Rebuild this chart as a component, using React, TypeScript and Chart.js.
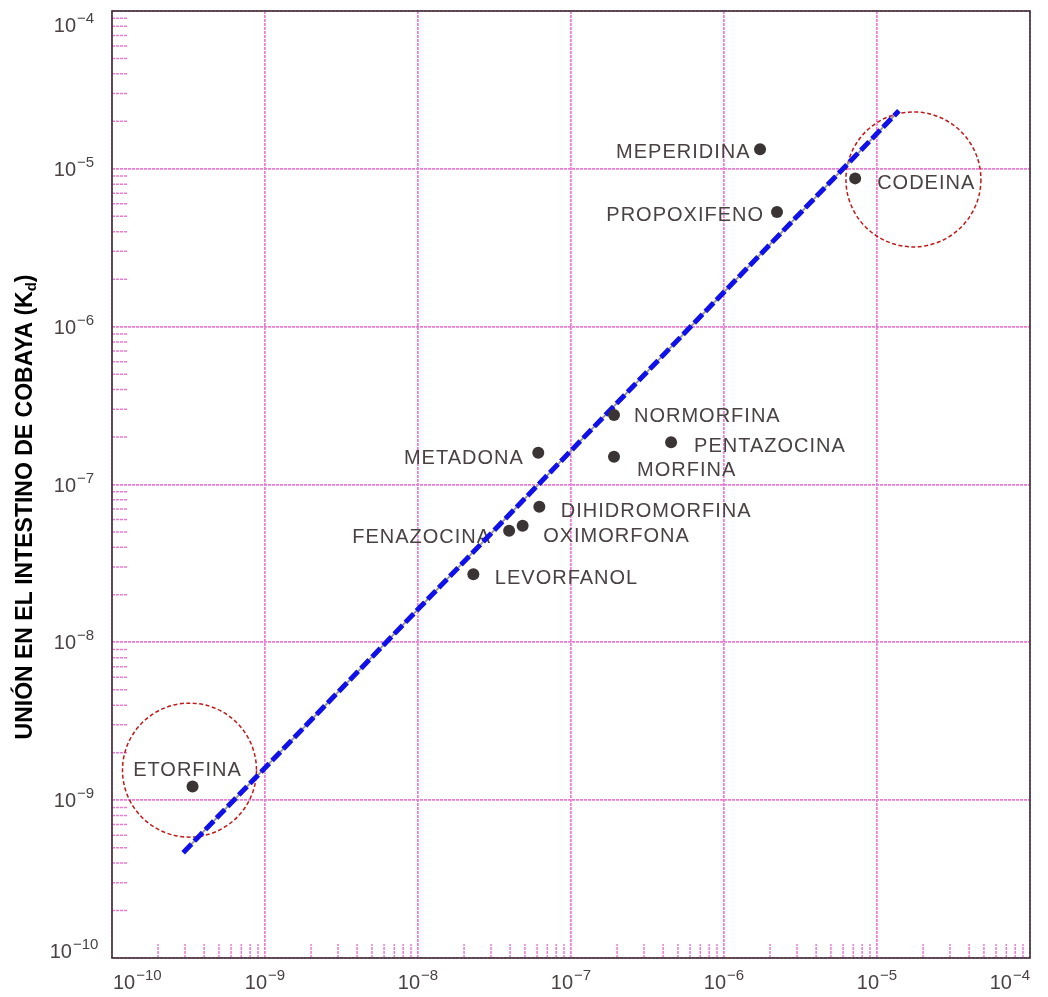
import React, { useEffect, useRef } from 'react';
import { Chart, registerables } from 'chart.js';

Chart.register(...registerables);

// ---- Data ----
const drugNames = [
  'MEPERIDINA',
  'CODEINA',
  'PROPOXIFENO',
  'NORMORFINA',
  'PENTAZOCINA',
  'METADONA',
  'MORFINA',
  'DIHIDROMORFINA',
  'FENAZOCINA',
  'OXIMORFONA',
  'LEVORFANOL',
  'ETORFINA',
];
const xValues = [1.72e-6, 7.2e-6, 2.22e-6, 1.91e-7, 4.51e-7, 6.11e-8, 1.91e-7, 6.21e-8, 3.94e-8, 4.83e-8, 2.3e-8, 3.36e-10];
const kdValues = [1.33e-5, 8.7e-6, 5.32e-6, 2.76e-7, 1.85e-7, 1.59e-7, 1.5e-7, 7.24e-8, 5.1e-8, 5.47e-8, 2.7e-8, 1.22e-9];

const fitX = [2.92e-10, 1.39e-5];
const fitY = [4.65e-10, 2.33e-5];

const circleX = [1.73e-5, 3.21e-10];
const circleY = [8.57e-6, 1.55e-9];

const tickExponents = [-10, -9, -8, -7, -6, -5, -4];
const tickLabelBase = '10';
const tickLabelExps = tickExponents.map((e) => '\u2212' + Math.abs(e));
const minorMultipliers = [2, 3, 4, 5, 6, 7, 8, 9];

const yTitleMain = 'UNIÓN EN EL INTESTINO DE COBAYA (K';
const yTitleSub = 'd';
const yTitleEnd = ')';

// ---- Styles / layout (not data) ----
const FONT = '"Liberation Sans", Arial, Helvetica, sans-serif';
const PINK = '#ee7ad6';
const TEXT = '#4a4242';
const FRAME = '#3a3232';
// label placement: [dx, dy, align]
const labelPlacement: [number, number, CanvasTextAlign][] = [
  [-10.5, 2, 'right'],
  [22, 3, 'left'],
  [-14, 2, 'right'],
  [20, 0, 'left'],
  [23, 2, 'left'],
  [-15.5, 4, 'right'],
  [23, 12, 'left'],
  [21.5, 3, 'left'],
  [-19, 5, 'right'],
  [20.5, 8.5, 'left'],
  [21.5, 2.5, 'left'],
  [-5, -18, 'center'],
];
const circleRadius = [67.5, 67];

function drawPow(
  ctx: CanvasRenderingContext2D,
  idx: number,
  cx: number,
  baseline: number,
  minX: number,
  maxX: number
) {
  ctx.font = `20px ${FONT}`;
  const wb = ctx.measureText(tickLabelBase).width;
  ctx.font = `15px ${FONT}`;
  const ws = ctx.measureText(tickLabelExps[idx]).width;
  const total = wb + 1 + ws;
  let left = cx - total / 2;
  if (left < minX) left = minX;
  if (left + total > maxX) left = maxX - total;
  ctx.fillStyle = TEXT;
  ctx.textAlign = 'left';
  ctx.textBaseline = 'alphabetic';
  ctx.font = `20px ${FONT}`;
  ctx.fillText(tickLabelBase, left, baseline);
  ctx.font = `15px ${FONT}`;
  ctx.fillText(tickLabelExps[idx], left + wb + 1, baseline - 9);
}

const decorPlugin = {
  id: 'decor',
  beforeDatasetsDraw(chart: any) {
    const { ctx, chartArea: a, scales } = chart;
    const xs = scales.x;
    const ys = scales.y;
    ctx.save();
    // minor ticks
    ctx.strokeStyle = PINK;
    ctx.lineWidth = 1.5;
    ctx.setLineDash([3, 1]);
    for (let k = 0; k < tickExponents.length - 1; k++) {
      const dec = Math.pow(10, tickExponents[k]);
      for (const m of minorMultipliers) {
        const v = m * dec;
        const px = xs.getPixelForValue(v);
        ctx.beginPath();
        ctx.moveTo(px, a.bottom);
        ctx.lineTo(px, a.bottom - 14);
        ctx.stroke();
        const py = ys.getPixelForValue(v);
        ctx.beginPath();
        ctx.moveTo(a.left, py);
        ctx.lineTo(a.left + 16, py);
        ctx.stroke();
      }
    }
    ctx.setLineDash([]);
    // drug labels
    ctx.fillStyle = TEXT;
    ctx.font = `20px ${FONT}`;
    (ctx as any).letterSpacing = '1px';
    ctx.textBaseline = 'alphabetic';
    drugNames.forEach((name, i) => {
      const px = xs.getPixelForValue(xValues[i]);
      const py = ys.getPixelForValue(kdValues[i]);
      const [dx, dy, align] = labelPlacement[i];
      ctx.textAlign = align;
      ctx.fillText(name, px + dx + (align === 'right' ? 1 : 0), py + dy + 7.2);
    });
    (ctx as any).letterSpacing = '0px';
    // circles
    ctx.strokeStyle = '#c01818';
    ctx.lineWidth = 1.5;
    ctx.setLineDash([4, 2.5]);
    circleX.forEach((cxv, i) => {
      const cx = xs.getPixelForValue(cxv);
      const cy = ys.getPixelForValue(circleY[i]);
      ctx.beginPath();
      ctx.arc(cx, cy, circleRadius[i], 0, Math.PI * 2);
      ctx.stroke();
    });
    ctx.restore();
  },
  afterDraw(chart: any) {
    const { ctx, chartArea: a, scales } = chart;
    const xs = scales.x;
    const ys = scales.y;
    ctx.save();
    // frame
    ctx.strokeStyle = FRAME;
    ctx.lineWidth = 1.6;
    ctx.setLineDash([]);
    ctx.strokeRect(a.left, a.top, a.right - a.left, a.bottom - a.top);
    // tick labels
    tickExponents.forEach((e, i) => {
      const v = Math.pow(10, e);
      const px = xs.getPixelForValue(v);
      drawPow(ctx, i, px, 989, a.left + 1, a.right);
      const py = ys.getPixelForValue(v);
      let base = py + 7;
      if (base < a.top + 21) base = a.top + 21;
      if (base > a.bottom) base = a.bottom;
      drawPow(ctx, i, 74, base, 0, a.left - 4);
    });
    // y title
    ctx.translate(32, 507);
    ctx.rotate(-Math.PI / 2);
    ctx.fillStyle = '#000';
    ctx.textBaseline = 'alphabetic';
    ctx.textAlign = 'left';
    ctx.font = `bold 23px ${FONT}`;
    const w1 = ctx.measureText(yTitleMain).width;
    const w3 = ctx.measureText(yTitleEnd).width;
    ctx.font = `bold 15px ${FONT}`;
    const w2 = ctx.measureText(yTitleSub).width;
    const total = w1 + w2 + w3;
    const x0 = -total / 2;
    ctx.font = `bold 23px ${FONT}`;
    ctx.fillText(yTitleMain, x0, 0);
    ctx.font = `bold 15px ${FONT}`;
    ctx.fillText(yTitleSub, x0 + w1, 4);
    ctx.font = `bold 23px ${FONT}`;
    ctx.fillText(yTitleEnd, x0 + w1 + w2, 0);
    ctx.restore();
  },
};

const logScale = () => ({
  type: 'logarithmic' as const,
  min: 1e-10,
  max: 1e-4,
  afterBuildTicks: (scale: any) => {
    scale.ticks = tickExponents.map((e) => ({ value: Math.pow(10, e) }));
  },
  ticks: { display: false },
  grid: { color: PINK, lineWidth: 1.7, drawTicks: false, borderDash: [3, 1] },
  border: { display: false, dash: [3, 1] },
  title: { display: false },
});

export default function App() {
  const ref = useRef<HTMLCanvasElement>(null);
  useEffect(() => {
    if (!ref.current) return;
    const points = xValues.map((x, i) => ({ x, y: kdValues[i] }));
    const fit = fitX.map((x, i) => ({ x, y: fitY[i] }));
    const chart = new Chart(ref.current, {
      type: 'scatter',
      data: {
        datasets: [
          {
            label: 'Opiáceos',
            data: points,
            pointRadius: 6,
            pointHoverRadius: 6,
            backgroundColor: '#3a3434',
            borderWidth: 0,
            order: 0,
          } as any,
          {
            label: 'Ajuste',
            data: fit,
            showLine: true,
            borderColor: '#1010e8',
            borderWidth: 5,
            borderDash: [12, 4],
            pointRadius: 0,
            order: 1,
          } as any,
          {
            label: 'Ajuste base',
            data: fit,
            showLine: true,
            borderColor: '#9a9a9a',
            borderWidth: 2,
            pointRadius: 0,
            order: 2,
          } as any,
        ],
      },
      options: {
        responsive: false,
        animation: false,
        layout: { padding: { left: 112, top: 11, right: 18, bottom: 39 } },
        plugins: {
          legend: { display: false },
          tooltip: { enabled: false },
          title: { display: false },
        },
        scales: {
          x: logScale() as any,
          y: logScale() as any,
        },
      },
      plugins: [decorPlugin],
    });
    return () => chart.destroy();
  }, []);
  return (
    <div style={{ position: 'fixed', left: 0, top: 0, width: 1048, height: 997, background: '#fff' }}>
      <canvas ref={ref} width={1048} height={997} style={{ display: 'block', width: 1048, height: 997 }} />
    </div>
  );
}
